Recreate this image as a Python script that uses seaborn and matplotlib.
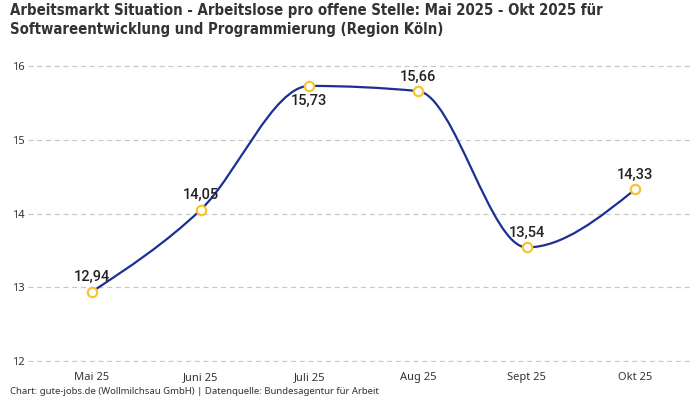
import numpy as np
import pandas as pd
import matplotlib
matplotlib.use("Agg")
import matplotlib.pyplot as plt
from matplotlib.path import Path
from matplotlib.patches import PathPatch
import seaborn as sns

months = ["Mai 25", "Juni 25", "Juli 25", "Aug 25", "Sept 25", "Okt 25"]
values = [12.94, 14.05, 15.73, 15.66, 13.54, 14.33]
label_pos = ["above", "above", "below", "above", "above", "above"]
y_ticks = [12, 13, 14, 15, 16]

title = ("Arbeitsmarkt Situation - Arbeitslose pro offene Stelle: Mai 2025 - Okt 2025 für\n"
         "Softwareentwicklung und Programmierung (Region Köln)")
footer = "Chart: gute-jobs.de (Wollmilchsau GmbH) | Datenquelle: Bundesagentur für Arbeit"

sns.set_theme(style="white")
plt.rcParams["font.family"] = ["Noto Sans", "DejaVu Sans"]

LINE = "#1c2f95"
MARK = "#f7c52f"
TXT = "#222222"

df = pd.DataFrame({"x": np.arange(len(months)), "y": values})

W, H = 700, 400
fig = plt.figure(figsize=(7, 4), dpi=100)
ax = fig.add_axes([28 / W, 1 - 362 / H, (690 - 28) / W, (362 - 65) / H])

x0 = 92.0
step = 108.67
ax.set_xlim((28 - x0) / step, (690 - x0) / step)
ax.set_ylim(12 - 1 / 73.75, 16 + 1 / 73.75)


def monotone_slopes(x, y):
    n = len(x)
    t = np.zeros(n)
    for i in range(1, n - 1):
        h0 = x[i] - x[i - 1]
        h1 = x[i + 1] - x[i]
        s0 = (y[i] - y[i - 1]) / h0
        s1 = (y[i + 1] - y[i]) / h1
        p = (s0 * h1 + s1 * h0) / (h0 + h1)
        t[i] = (np.sign(s0) + np.sign(s1)) * min(abs(s0), abs(s1), 0.5 * abs(p))
    h = x[1] - x[0]
    t[0] = (3 * (y[1] - y[0]) / h - t[1]) / 2
    h = x[-1] - x[-2]
    t[-1] = (3 * (y[-1] - y[-2]) / h - t[-2]) / 2
    return t


xs = df["x"].to_numpy(dtype=float)
ys = df["y"].to_numpy(dtype=float)
ts = monotone_slopes(xs, ys)
verts = [(xs[0], ys[0])]
codes = [Path.MOVETO]
for i in range(len(xs) - 1):
    dx = (xs[i + 1] - xs[i]) / 3
    verts += [(xs[i] + dx, ys[i] + dx * ts[i]),
              (xs[i + 1] - dx, ys[i + 1] - dx * ts[i + 1]),
              (xs[i + 1], ys[i + 1])]
    codes += [Path.CURVE4] * 3
ax.add_patch(PathPatch(Path(verts, codes), facecolor="none", edgecolor=LINE,
                       lw=1.6, zorder=3, capstyle="round"))

sns.scatterplot(data=df, x="x", y="y", ax=ax, s=45, color="white",
                edgecolor=MARK, linewidth=1.6, zorder=4, legend=False)

for xi, yi, pos in zip(xs, ys, label_pos):
    lab = f"{yi:.2f}".replace(".", ",")
    if pos == "above":
        ax.annotate(lab, (xi, yi), xytext=(0, 5.5), textcoords="offset points",
                    ha="center", va="bottom", fontsize=10.5, color=TXT,
                    fontweight="medium", family=["Roboto", "DejaVu Sans"])
    else:
        ax.annotate(lab, (xi, yi), xytext=(0, -6), textcoords="offset points",
                    ha="center", va="top", fontsize=10.5, color=TXT,
                    fontweight="medium", family=["Roboto", "DejaVu Sans"])

ax.set_yticks(y_ticks)
ax.set_yticklabels([str(v) for v in y_ticks])
ax.set_xticks(xs)
ax.set_xticklabels(months)
ax.grid(axis="y", color="#c8c8c8", linestyle=(0, (4, 3)), linewidth=0.9)
ax.grid(axis="x", visible=False)
for s in ax.spines.values():
    s.set_visible(False)
ax.tick_params(axis="y", length=0, pad=0, labelsize=8, labelcolor="#333333")
for lbl in ax.get_yticklabels():
    lbl.set_horizontalalignment("left")
    lbl.set_x(-16 / (690 - 28))
ax.tick_params(axis="x", length=0, pad=7, labelsize=8, labelcolor="#333333")
ax.set_xlabel("")
ax.set_ylabel("")

fig.text(10 / W, 1 - 3 / H, title, ha="left", va="top", fontsize=10.7,
         fontweight="bold", fontstretch="condensed", color="#333333",
         linespacing=1.3, family=["DejaVu Sans"])
fig.text(10 / W, 1 - 391 / H, footer, ha="left", va="center", fontsize=6.9,
         color="#333333")

fig.savefig("out.png", dpi=100)
